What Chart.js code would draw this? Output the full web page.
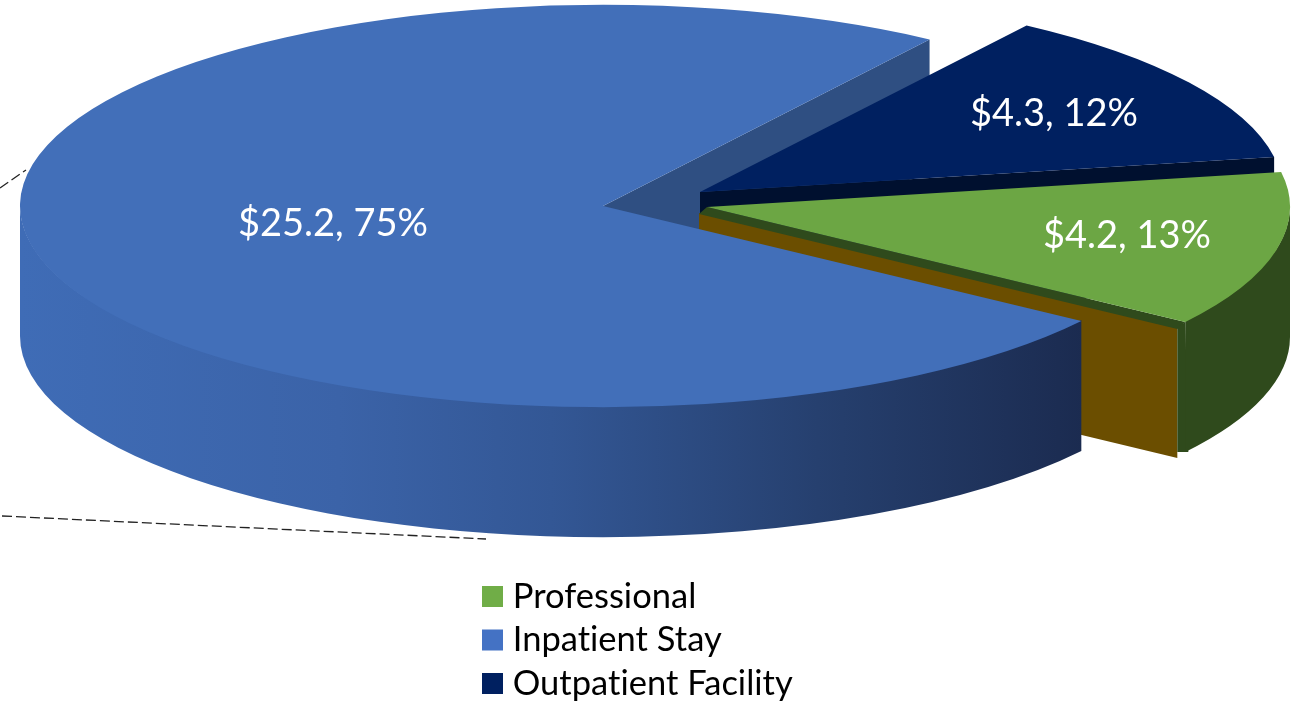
<!DOCTYPE html>
<html>
<head>
<meta charset="utf-8">
<title>Spending by category</title>
<script src="https://cdn.jsdelivr.net/npm/chart.js@4"></script>
<style>
  html, body { margin: 0; padding: 0; background: #fff; overflow: hidden; }
  canvas { display: block; }
</style>
</head>
<body>
<canvas id="pie" width="1299" height="701"></canvas>
<script>
// values, in legend order
const categories = ['Professional', 'Inpatient Stay', 'Outpatient Facility'];
const amounts = [4.2, 25.2, 4.3];
const shares = [13, 75, 12];

const topColors = ['#6ca644', '#426fb9', '#002060'];
const legendColors = ['#70ad47', '#4472c4', '#002060'];

// look of the fake 3D disc
const centre = { x: 603, y: 206 };
const radius = 583;
const tilt = 0.345;
const depth = 130;
const shifts = [[104, 1], [0, 0], [97, -14]]; // exploded slices, screen px
const labelSpots = [[1127, 236], [333, 224], [1054, 114]];

function place(i) {
  return { x: centre.x + shifts[i][0], y: centre.y + shifts[i][1] };
}

function rimPoint(p, angle) {
  return { x: p.x + radius * Math.cos(angle), y: p.y + radius * tilt * Math.sin(angle) };
}

function drawTop(ctx, el, i) {
  const p = place(i);
  ctx.save();
  ctx.translate(p.x, p.y);
  ctx.scale(1, tilt);
  ctx.translate(-el.x, -el.y);
  el.draw(ctx);
  ctx.restore();
}

function quad(ctx, a, b, c, d, fill) {
  ctx.beginPath();
  ctx.moveTo(a.x, a.y);
  ctx.lineTo(b.x, b.y);
  ctx.lineTo(c.x, c.y);
  ctx.lineTo(d.x, d.y);
  ctx.closePath();
  ctx.fillStyle = fill;
  ctx.fill();
}

// flat wall along one cut edge of a slice
function cutWall(ctx, i, angle, fill, nudge) {
  const n = nudge || { x: 0, y: 0 };
  const p = place(i);
  const a = { x: p.x + n.x, y: p.y + n.y };
  const b = rimPoint(a, angle);
  quad(ctx, a, b, { x: b.x, y: b.y + depth }, { x: a.x, y: a.y + depth }, fill);
}

// curved wall, only the part of the rim that faces the viewer
function outerWall(ctx, el, i, fill) {
  const p = place(i);
  const two = Math.PI * 2;
  let s = ((el.startAngle % two) + two) % two;
  let e = s + (el.endAngle - el.startAngle);
  let from, to;
  if (s < Math.PI) { from = s; to = Math.min(e, Math.PI); }
  else if (e > two) { from = two; to = Math.min(e, two + Math.PI); }
  else return;
  ctx.beginPath();
  // start 1px high so the top surface overlaps it with no light seam
  ctx.ellipse(p.x, p.y - 1, radius, radius * tilt, 0, from, to);
  ctx.ellipse(p.x, p.y + depth, radius, radius * tilt, 0, to, from, true);
  ctx.closePath();
  ctx.fillStyle = fill;
  ctx.fill();
}

const disc3d = {
  id: 'disc3d',
  beforeDraw(chart) {
    // stack the legend under the disc
    const lg = chart.legend;
    const pad = lg.options.labels.padding;
    lg.left = 489.5 - pad;
    lg.right = 1299;
    lg.top = 570.25;
    lg.bottom = 790;
    chart.ctx.letterSpacing = '0.01px'; // no "ti" ligature from Lato
  },
  beforeDatasetsDraw(chart) {
    const ctx = chart.ctx;
    const [green, blue, navy] = chart.getDatasetMeta(0).data;

    // leader lines left over behind the disc
    ctx.save();
    ctx.strokeStyle = '#222';
    ctx.lineWidth = 1.3;
    ctx.setLineDash([10, 4]);
    ctx.beginPath();
    ctx.moveTo(0, 188);
    ctx.lineTo(26, 170);
    ctx.moveTo(2, 516);
    ctx.lineTo(486, 539);
    ctx.stroke();
    ctx.restore();

    // back wall of the big slice, seen through the gap
    cutWall(ctx, 1, blue.endAngle, '#2f4f82');

    // outpatient wedge
    cutWall(ctx, 2, navy.endAngle, '#00102f');
    drawTop(ctx, navy, 2);

    // professional wedge: brown cut wall with a thin dark lip
    cutWall(ctx, 0, green.endAngle, '#6b4e00', { x: -8, y: 6 });
    const g = place(0);
    const gEnd = rimPoint(g, green.endAngle);
    quad(ctx, g, gEnd, { x: gEnd.x - 8, y: gEnd.y + 7 }, { x: g.x - 8, y: g.y + 7 }, '#2f4a1c');
    quad(ctx, gEnd, { x: gEnd.x - 8, y: gEnd.y + 5 }, { x: gEnd.x - 8, y: gEnd.y + depth }, { x: gEnd.x + 3, y: gEnd.y + depth }, '#2f4a1c');
    outerWall(ctx, green, 0, '#2f4a1c');
    drawTop(ctx, green, 0);

    // inpatient wall with its left to right shading, then the top
    const shade = ctx.createLinearGradient(20, 0, 1083, 0);
    shade.addColorStop(0, '#3f6cb6');
    shade.addColorStop(0.3, '#3b63a8');
    shade.addColorStop(0.5, '#335795');
    shade.addColorStop(0.75, '#26406f');
    shade.addColorStop(1, '#1b2b50');
    outerWall(ctx, blue, 1, shade);
    drawTop(ctx, blue, 1);

    // data labels
    ctx.save();
    ctx.fillStyle = '#fff';
    ctx.font = '38px Lato';
    ctx.textAlign = 'center';
    ctx.textBaseline = 'middle';
    amounts.forEach((v, i) => {
      ctx.fillText('$' + v.toFixed(1) + ', ' + shares[i] + '%', labelSpots[i][0], labelSpots[i][1]);
    });
    ctx.restore();
    return false;
  }
};

new Chart(document.getElementById('pie'), {
  type: 'pie',
  data: {
    labels: categories,
    datasets: [{
      data: amounts,
      backgroundColor: topColors,
      borderWidth: 0
    }]
  },
  options: {
    responsive: false,
    animation: false,
    rotation: 80,
    radius: radius,
    layout: { padding: 0 },
    plugins: {
      tooltip: { enabled: false },
      legend: {
        position: 'chartArea',
        align: 'start',
        labels: {
          boxWidth: 6,
          boxHeight: 6,
          padding: 9,
          color: '#000',
          font: { family: 'Lato', size: 34.5 },
          generateLabels() {
            return categories.map((c, i) => ({
              text: c,
              fillStyle: legendColors[i],
              strokeStyle: legendColors[i],
              lineWidth: 15,
              index: i
            }));
          }
        }
      }
    }
  },
  plugins: [disc3d]
});
</script>
</body>
</html>
